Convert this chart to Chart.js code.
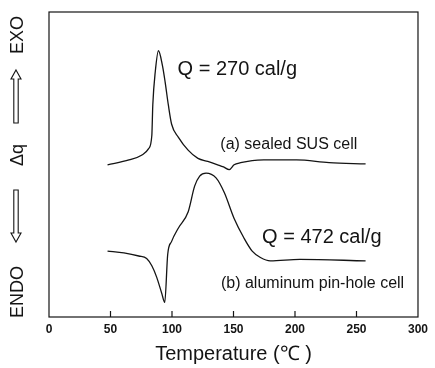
<!DOCTYPE html>
<html lang="en">
<head>
<meta charset="UTF-8" />
<title>DSC curves</title>
<script src="https://cdn.jsdelivr.net/npm/chart.js"></script>
<style>
  html,body{margin:0;background:#fff}
  canvas{display:block}
</style>
</head>
<body>
<canvas id="dsc" width="435" height="368"></canvas>
<script>
// x ticks (deg C)
const xTicks = [0, 50, 100, 150, 200, 250, 300];

// (a) sealed SUS cell (dq in arbitrary units, 0-100 = frame)
const tempA = [47.6, 65.0, 75.6, 81.0, 83.6, 84.4, 86.4, 89.0, 92.2, 94.4, 97.0, 99.7, 105.1, 113.1, 121.1, 129.1, 137.1, 141.9, 146.5, 150.5, 155.8, 165.2, 174.6, 201.3, 227.7, 257.4];
const dqA   = [49.9, 51.5, 53.1, 55.2, 59.5, 69.6, 80.4, 87.3, 82.5, 77.1, 69.6, 63.2, 59.0, 54.7, 52.0, 51.0, 49.9, 49.2, 48.3, 49.9, 50.6, 51.3, 51.5, 51.5, 50.6, 50.2];

// (b) aluminum pin-hole cell
const tempB = [47.6, 60.9, 73.0, 79.4, 83.6, 87.6, 91.7, 94.1, 96.5, 99.7, 105.1, 113.1, 118.4, 122.5, 127.7, 135.8, 142.5, 150.5, 158.5, 165.2, 171.9, 179.9, 203.9, 257.4];
const dqB   = [21.6, 21.0, 20.0, 19.2, 16.8, 13.0, 7.7, 4.8, 20.5, 24.8, 29.1, 34.4, 42.9, 46.2, 47.2, 45.6, 40.8, 32.3, 25.9, 21.6, 19.5, 18.4, 18.9, 18.4];

const notes = ['Q = 270 cal/g', '(a) sealed SUS cell', 'Q = 472 cal/g', '(b) aluminum pin-hole cell'];
const yWords = ['EXO', 'Δq', 'ENDO'];

const FONT = '"Liberation Sans", Arial, Helvetica, sans-serif';
const INK = '#141414';

function zip(xs, ys) { return xs.map((v, i) => ({x: v, y: ys[i]})); }

function arrow(ctx, cx, tipY, tailY) {
  const d = Math.sign(tailY - tipY);
  const hl = 9, hw = 5, sw = 2.2;
  const neck = tipY + d * hl;
  ctx.beginPath();
  ctx.moveTo(cx, tipY);
  ctx.lineTo(cx + hw, neck);
  ctx.lineTo(cx + sw, neck);
  ctx.lineTo(cx + sw, tailY);
  ctx.lineTo(cx - sw, tailY);
  ctx.lineTo(cx - sw, neck);
  ctx.lineTo(cx - hw, neck);
  ctx.closePath();
  ctx.stroke();
}

const frame = {
  id: 'frame',
  afterDatasetsDraw(chart) {
    const {ctx, chartArea: a, scales: {x, y}} = chart;
    ctx.save();
    ctx.strokeStyle = INK;
    ctx.lineWidth = 1.2;
    ctx.strokeRect(a.left, a.top, a.right - a.left, a.bottom - a.top);

    // inward tick marks
    xTicks.slice(1, -1).forEach(t => {
      const px = x.getPixelForValue(t);
      ctx.beginPath();
      ctx.moveTo(px, a.bottom);
      ctx.lineTo(px, a.bottom - 6);
      ctx.stroke();
    });

    // notes next to the curves
    ctx.fillStyle = INK;
    ctx.textAlign = 'left';
    ctx.textBaseline = 'middle';
    const put = (txt, t, v, size) => {
      ctx.font = size + 'px ' + FONT;
      ctx.fillText(txt, x.getPixelForValue(t), y.getPixelForValue(v));
    };
    put(notes[0], 104.5, 81.1, 20);
    put(notes[1], 139.3, 56.4, 16);
    put(notes[2], 173.2, 26.0, 20);
    put(notes[3], 139.8, 10.9, 16);

    // vertical label: ENDO <= dq => EXO
    ctx.save();
    ctx.rotate(-Math.PI / 2);
    ctx.textAlign = 'center';
    ctx.font = '18px ' + FONT;
    ctx.fillText(yWords[0], -35, 18);
    ctx.fillText(yWords[1], -155, 18);
    ctx.fillText(yWords[2], -292, 18);
    ctx.restore();
    ctx.lineWidth = 1.1;
    arrow(ctx, 16, 70, 123);
    arrow(ctx, 16, 242, 190);
    ctx.restore();
  }
};

new Chart(document.getElementById('dsc'), {
  type: 'scatter',
  data: {
    datasets: [
      {data: zip(tempA, dqA), showLine: true, borderColor: INK, borderWidth: 1.3, pointRadius: 0, cubicInterpolationMode: 'monotone'},
      {data: zip(tempB, dqB), showLine: true, borderColor: INK, borderWidth: 1.3, pointRadius: 0, cubicInterpolationMode: 'monotone'}
    ]
  },
  options: {
    responsive: false,
    animation: false,
    devicePixelRatio: 1,
    layout: {padding: {left: 49, right: 12, top: 12, bottom: 4}},
    plugins: {legend: {display: false}, tooltip: {enabled: false}},
    scales: {
      x: {
        type: 'linear', min: 0, max: 300,
        afterBuildTicks: s => { s.ticks = xTicks.map(v => ({value: v})); },
        ticks: {color: INK, padding: 7, font: {family: FONT, size: 12, weight: 'bold', lineHeight: 1}},
        grid: {display: false, drawTicks: false},
        border: {display: false},
        title: {display: true, text: 'Temperature (℃ )', color: INK, padding: {top: 1, bottom: 0}, font: {family: FONT, size: 20, lineHeight: 1}}
      },
      y: {min: 0, max: 100, display: false}
    }
  },
  plugins: [frame]
});
</script>
</body>
</html>
